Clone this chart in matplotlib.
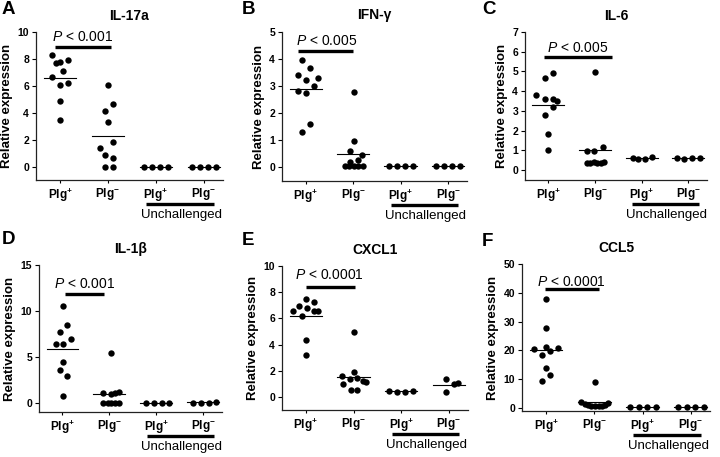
import numpy as np
import matplotlib
matplotlib.use('Agg')
import matplotlib.pyplot as plt
import matplotlib.transforms as mtransforms

plt.rcParams['font.family'] = ['Liberation Sans', 'DejaVu Sans']
plt.rcParams['mathtext.fontset'] = 'custom'
plt.rcParams['mathtext.rm'] = 'Liberation Sans'
plt.rcParams['mathtext.it'] = 'Liberation Sans:italic'
plt.rcParams['mathtext.bf'] = 'Liberation Sans:bold'

# x categories: challenged Plg+/Plg-, unchallenged Plg+/Plg-
xtick_labels = [r'$\mathbf{Plg}^{\mathbf{+}}$', r'$\mathbf{Plg}^{\mathbf{-}}$',
                r'$\mathbf{Plg}^{\mathbf{+}}$', r'$\mathbf{Plg}^{\mathbf{-}}$']

# values per group and the horizontal scatter of the dots
a_vals = [[8.32, 7.70, 7.80, 7.95, 7.13, 6.64, 6.10, 6.22, 4.86, 3.46],
          [6.10, 4.70, 4.12, 3.33, 1.83, 1.43, 0.86, 0.69, 0.0, 0.0],
          [0.0, 0.0, 0.0, 0.0],
          [0.0, 0.0, 0.0, 0.0]]
a_jit = [[-0.17, -0.09, 0.0, 0.17, 0.07, -0.16, 0.0, 0.17, 0.0, 0.0],
         [0.0, 0.1, -0.07, 0.0, 0.1, -0.16, -0.07, 0.1, -0.07, 0.1],
         [-0.25, -0.08, 0.09, 0.26],
         [-0.25, -0.08, 0.09, 0.26]]

b_vals = [[3.97, 3.68, 3.42, 3.23, 3.30, 3.01, 2.82, 2.73, 1.58, 1.28],
          [2.79, 0.97, 0.60, 0.45, 0.19, 0.25, 0.02, 0.02, 0.02, 0.02, 0.02],
          [0.02, 0.02, 0.02, 0.02],
          [0.02, 0.02, 0.02, 0.02]]
b_jit = [[-0.08, 0.09, -0.17, 0.0, 0.25, 0.17, -0.17, 0.0, 0.09, -0.08],
         [0.02, 0.02, -0.06, 0.18, -0.06, 0.1, -0.17, -0.08, 0.02, 0.11, 0.2],
         [-0.25, -0.08, 0.09, 0.26],
         [-0.25, -0.08, 0.09, 0.26]]

c_vals = [[4.92, 4.69, 3.81, 3.59, 3.59, 3.52, 3.22, 2.80, 1.83, 1.02],
          [4.97, 0.98, 0.98, 1.15, 0.38, 0.35, 0.40, 0.36, 0.38, 0.42],
          [0.63, 0.56, 0.56, 0.68],
          [0.61, 0.58, 0.61, 0.61]]
c_jit = [[0.09, -0.08, -0.26, -0.08, 0.09, 0.18, 0.09, -0.08, 0.0, 0.0],
         [0.0, -0.18, -0.02, 0.17, -0.18, -0.1, -0.03, 0.05, 0.12, 0.2],
         [-0.19, -0.08, 0.07, 0.23],
         [-0.25, -0.09, 0.07, 0.24]]

d_vals = [[10.56, 8.49, 7.70, 6.95, 6.44, 6.44, 4.44, 3.58, 2.94, 0.79],
          [5.44, 1.08, 0.97, 1.08, 1.22, 0.05, 0.05, 0.05, 0.05, 0.05],
          [0.0, 0.0, 0.0, 0.0],
          [0.05, 0.05, 0.05, 0.1]]
d_jit = [[0.02, 0.1, -0.06, 0.19, -0.14, 0.02, 0.02, -0.06, 0.1, 0.02],
         [0.04, -0.13, 0.04, 0.11, 0.21, -0.13, -0.04, 0.04, 0.13, 0.21],
         [-0.22, -0.05, 0.12, 0.28],
         [-0.22, -0.05, 0.12, 0.28]]

e_vals = [[7.50, 7.23, 6.98, 6.80, 6.55, 6.55, 6.55, 6.18, 4.38, 3.23],
          [4.98, 1.95, 1.65, 1.35, 1.43, 1.20, 1.13, 0.98, 0.53, 0.53],
          [0.50, 0.43, 0.43, 0.50],
          [1.38, 1.00, 1.05, 0.38]]
e_jit = [[0.0, 0.17, -0.15, 0.02, -0.26, 0.17, 0.26, -0.08, 0.0, 0.0],
         [0.0, 0.0, -0.25, -0.08, 0.08, 0.19, 0.27, -0.23, -0.06, 0.08],
         [-0.26, -0.08, 0.08, 0.25],
         [-0.07, 0.1, 0.19, -0.06]]

f_vals = [[37.7, 27.7, 21.2, 20.9, 20.3, 19.7, 18.3, 14.0, 11.4, 9.2],
          [8.9, 1.9, 1.4, 1.0, 0.8, 0.6, 0.6, 0.8, 1.1, 1.7],
          [0.2, 0.2, 0.2, 0.2],
          [0.2, 0.2, 0.2, 0.2]]
f_jit = [[0.0, 0.0, 0.0, 0.24, -0.26, 0.09, -0.08, 0.0, 0.09, -0.08],
         [0.02, -0.27, -0.2, -0.13, -0.06, 0.02, 0.09, 0.16, 0.22, 0.29],
         [-0.26, -0.08, 0.09, 0.27],
         [-0.26, -0.08, 0.09, 0.27]]

titles = ['IL-17a', 'IFN-γ', 'IL-6', 'IL-1β', 'CXCL1', 'CCL5']
letters = ['A', 'B', 'C', 'D', 'E', 'F']
p_texts = ['0.001', '0.005', '0.005', '0.001', '0.0001', '0.0001']

fig = plt.figure(figsize=(7.2, 4.57), dpi=100)
W, H = 720.0, 457.0


def px_axes(left, right, top, bottom):
    return fig.add_axes([left / W, 1 - bottom / H, (right - left) / W, (bottom - top) / H])


def draw_panel(ax, vals, jit, ylim, yticks, title, ptxt, pbar, ptxt_pos, ubar):
    for i, (v, j) in enumerate(zip(vals, jit)):
        v = np.array(v)
        ax.scatter(i + np.array(j), v, s=21, color='black', zorder=3, linewidths=0)
        m = np.mean(v)
        ax.plot([i - 0.34, i + 0.34], [m, m], color='black', lw=0.8, zorder=2)
    ax.set_xlim(-0.5, 3.4)
    ax.set_ylim(*ylim)
    ax.set_yticks(yticks)
    ax.set_xticks(range(4))
    ax.set_xticklabels(xtick_labels, fontsize=8.5)
    for lab in ax.get_yticklabels():
        lab.set_fontweight('bold')
    ax.tick_params(axis='y', labelsize=7.5, length=3, width=0.8, pad=2)
    ax.tick_params(axis='x', length=2.5, width=0.8, pad=2)
    for s in ['top', 'right']:
        ax.spines[s].set_visible(False)
    for s in ['left', 'bottom']:
        ax.spines[s].set_linewidth(0.9)
        ax.spines[s].set_color('#222222')
    ax.set_ylabel('Relative expression', fontsize=9.5, fontweight='bold', labelpad=3)
    ax.set_title(title, fontsize=10, fontweight='bold', pad=9)
    # significance bar
    ax.plot(pbar[:2], [pbar[2], pbar[2]], color='black', lw=2.4, clip_on=False,
            solid_capstyle='butt')
    ax.text(ptxt_pos[0], ptxt_pos[1], r'$\mathit{P}$ < ' + ptxt, fontsize=10,
            ha='center', va='center')
    # unchallenged bracket under the two right groups
    blend = mtransforms.blended_transform_factory(ax.transData, ax.transAxes)
    tline = mtransforms.offset_copy(blend, fig=fig, y=-ubar, units='dots')
    ttext = mtransforms.offset_copy(blend, fig=fig, y=-ubar - 11, units='dots')
    ax.plot([1.8, 3.22], [0, 0], transform=tline, color='black', lw=2.4, clip_on=False,
            solid_capstyle='butt')
    ax.text(2.53, 0, 'Unchallenged', transform=ttext, fontsize=9.5, ha='center', va='center')


ax_a = px_axes(36, 223, 32, 180)
draw_panel(ax_a, a_vals, a_jit, (-0.96, 10), range(0, 11, 2), titles[0], p_texts[0],
           (-0.1, 1.06, 8.9), (0.48, 9.6), 24)
ax_b = px_axes(282, 467, 32, 181)
draw_panel(ax_b, b_vals, b_jit, (-0.53, 5), range(0, 6), titles[1], p_texts[1],
           (-0.17, 1.0, 4.3), (0.44, 4.65), 24)
ax_c = px_axes(525, 707, 32, 180)
draw_panel(ax_c, c_vals, c_jit, (-0.5, 7), range(0, 8), titles[2], p_texts[2],
           (-0.1, 1.37, 5.74), (0.63, 6.2), 24)
ax_d = px_axes(39, 222, 265, 412)
draw_panel(ax_d, d_vals, d_jit, (-0.97, 15), range(0, 16, 5), titles[3], p_texts[3],
           (0.06, 0.88, 11.9), (0.46, 12.9), 24)
ax_e = px_axes(282, 468, 266, 410)
draw_panel(ax_e, e_vals, e_jit, (-0.98, 10), range(0, 11, 2), titles[4], p_texts[4],
           (0.0, 1.03, 8.4), (0.5, 9.3), 24)
ax_f = px_axes(522, 710, 264, 411)
draw_panel(ax_f, f_vals, f_jit, (-1.1, 50), range(0, 51, 10), titles[5], p_texts[5],
           (-0.02, 1.09, 41.4), (0.53, 43.8), 24)

letter_pos = [(2, 1), (242, 1), (482, 1), (2, 231), (242, 232), (482, 233)]
for lt, (x, y) in zip(letters, letter_pos):
    fig.text(x / W, 1 - y / H, lt, fontsize=13.5, fontweight='bold', ha='left', va='top')

fig.savefig('out.png', dpi=100)
